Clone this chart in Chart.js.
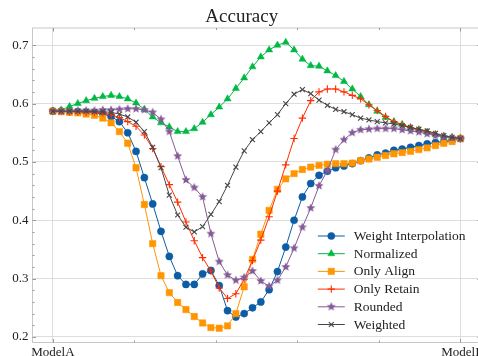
<!DOCTYPE html>
<html>
<head>
<meta charset="utf-8">
<script src="https://cdn.jsdelivr.net/npm/chart.js@4.4.1/dist/chart.umd.min.js"></script>
<style>
  html, body { margin: 0; padding: 0; background: #fff; overflow: hidden; }
  #wrap { width: 486px; height: 356px; }
</style>
</head>
<body>
<div id="wrap"><canvas id="accChart"></canvas></div>
<script>
// 50 evenly spaced interpolation steps between ModelA and ModelI
const steps = Array.from({ length: 50 }, (_, i) => i);
const xTickLabels = { 0: "ModelA", 49: "ModelI" };
const yTicks = [0.2, 0.3, 0.4, 0.5, 0.6, 0.7];

const weightInterp = [
  0.587, 0.587, 0.586, 0.586, 0.585, 0.584, 0.582, 0.578, 0.569, 0.550,
  0.518, 0.473, 0.428, 0.381, 0.338, 0.305, 0.290, 0.290, 0.308, 0.314,
  0.288, 0.245, 0.234, 0.240, 0.250, 0.260, 0.281, 0.312, 0.354, 0.400,
  0.440, 0.463, 0.477, 0.484, 0.490, 0.493, 0.497, 0.502, 0.507, 0.512,
  0.515, 0.520, 0.522, 0.525, 0.528, 0.531, 0.533, 0.535, 0.537, 0.540,
];
const normalized = [
  0.587, 0.589, 0.595, 0.600, 0.605, 0.609, 0.612, 0.614, 0.612, 0.608,
  0.601, 0.590, 0.577, 0.567, 0.560, 0.552, 0.552, 0.557, 0.568, 0.581,
  0.594, 0.608, 0.626, 0.644, 0.663, 0.680, 0.692, 0.700, 0.705, 0.692,
  0.676, 0.665, 0.664, 0.656, 0.648, 0.638, 0.625, 0.612, 0.598, 0.587,
  0.576, 0.569, 0.564, 0.559, 0.555, 0.551, 0.547, 0.544, 0.542, 0.540,
];
const onlyAlign = [
  0.587, 0.586, 0.585, 0.584, 0.582, 0.580, 0.575, 0.567, 0.552, 0.532,
  0.490, 0.427, 0.360, 0.305, 0.276, 0.259, 0.247, 0.235, 0.224, 0.216,
  0.215, 0.219, 0.240, 0.286, 0.333, 0.376, 0.417, 0.453, 0.471, 0.480,
  0.487, 0.491, 0.494, 0.496, 0.497, 0.497, 0.498, 0.502, 0.505, 0.508,
  0.511, 0.514, 0.516, 0.518, 0.521, 0.524, 0.528, 0.532, 0.535, 0.540,
];
const onlyRetain = [
  0.587, 0.587, 0.586, 0.586, 0.585, 0.585, 0.584, 0.581, 0.576, 0.569,
  0.561, 0.546, 0.523, 0.492, 0.461, 0.431, 0.397, 0.365, 0.336, 0.313,
  0.284, 0.266, 0.274, 0.299, 0.331, 0.366, 0.406, 0.450, 0.495, 0.540,
  0.575, 0.605, 0.620, 0.625, 0.625, 0.620, 0.614, 0.608, 0.598, 0.588,
  0.578, 0.569, 0.564, 0.559, 0.555, 0.551, 0.547, 0.544, 0.542, 0.540,
];
const rounded = [
  0.587, 0.587, 0.587, 0.588, 0.588, 0.588, 0.589, 0.589, 0.590, 0.591,
  0.591, 0.589, 0.585, 0.573, 0.552, 0.510, 0.469, 0.456, 0.440, 0.377,
  0.329, 0.306, 0.297, 0.302, 0.313, 0.296, 0.287, 0.297, 0.320, 0.352,
  0.388, 0.421, 0.459, 0.485, 0.521, 0.538, 0.550, 0.555, 0.556, 0.557,
  0.557, 0.557, 0.555, 0.553, 0.551, 0.548, 0.545, 0.543, 0.541, 0.540,
];
const weighted = [
  0.587, 0.587, 0.587, 0.587, 0.587, 0.586, 0.586, 0.585, 0.582, 0.577,
  0.568, 0.552, 0.525, 0.490, 0.443, 0.409, 0.388, 0.380, 0.389, 0.410,
  0.432, 0.460, 0.491, 0.519, 0.538, 0.552, 0.567, 0.581, 0.600, 0.616,
  0.624, 0.617, 0.606, 0.597, 0.590, 0.586, 0.581, 0.575, 0.572, 0.569,
  0.567, 0.565, 0.562, 0.559, 0.556, 0.553, 0.549, 0.545, 0.542, 0.540,
];

const SERIF = '"Liberation Serif", "DejaVu Serif", serif';

// filled five-point star, like matplotlib's "*" marker
function starMarker(color, r) {
  const c = document.createElement("canvas");
  const s = Math.ceil(r * 2 + 2);
  c.width = c.height = s;
  const g = c.getContext("2d");
  g.beginPath();
  for (let k = 0; k < 10; k++) {
    const rr = k % 2 ? r * 0.45 : r;
    const a = -Math.PI / 2 + (k * Math.PI) / 5;
    g.lineTo(s / 2 + rr * Math.cos(a), s / 2 + rr * Math.sin(a));
  }
  g.closePath();
  g.fillStyle = color;
  g.fill();
  return c;
}

function series(label, data, color, pointStyle, radius, idx) {
  return {
    label: label,
    data: data,
    borderColor: color,
    backgroundColor: color,
    pointBackgroundColor: color,
    pointBorderColor: color,
    borderWidth: 1,
    pointBorderWidth: pointStyle === "cross" || pointStyle === "crossRot" ? 1.1 : 0.5,
    pointStyle: pointStyle,
    pointRadius: radius,
    tension: 0,
    order: 5 - idx,
  };
}

const datasets = [
  series("Weight Interpolation", weightInterp, "#0C5DA5", "circle", 3.6, 0),
  series("Normalized", normalized, "#00B945", "triangle", 4.1, 1),
  series("Only Align", onlyAlign, "#FF9500", "rect", 4.5, 2),
  series("Only Retain", onlyRetain, "#FF2C00", "cross", 3.7, 3),
  series("Rounded", rounded, "#845B97", starMarker("#845B97", 4.7), 4.7, 4),
  series("Weighted", weighted, "#474747", "crossRot", 3.5, 5),
];

// box around the axes with small inward ticks
const frame = {
  id: "frame",
  afterDraw(chart) {
    const { ctx, chartArea: a, scales } = chart;
    ctx.save();
    ctx.strokeStyle = "#c8c8c8";
    ctx.lineWidth = 1;
    ctx.strokeRect(a.left, a.top, a.right - a.left, a.bottom - a.top);
    ctx.strokeStyle = "#999";
    ctx.beginPath();
    for (let v = 0.2; v <= 0.72; v += 0.02) {
      const y = Math.round(scales.y.getPixelForValue(v)) + 0.5;
      const major = Math.abs(v * 10 - Math.round(v * 10)) < 1e-6;
      const len = major ? 3.5 : 2;
      ctx.moveTo(a.left, y); ctx.lineTo(a.left + len, y);
      ctx.moveTo(a.right, y); ctx.lineTo(a.right - len, y);
    }
    for (let f = 0; f <= 5; f++) {
      const x = Math.round(scales.x.getPixelForValue(f * 9.8)) + 0.5;
      const len = f === 0 || f === 5 ? 3.5 : 2;
      ctx.moveTo(x, a.bottom); ctx.lineTo(x, a.bottom - len);
      ctx.moveTo(x, a.top); ctx.lineTo(x, a.top + len);
    }
    ctx.stroke();
    ctx.restore();
  },
};

// legend drawn inside the plot, lower right, without a box
const insideLegend = {
  id: "insideLegend",
  afterDraw(chart) {
    const { ctx, chartArea: a } = chart;
    const x0 = a.right - 163;
    const y0 = a.top + 208;
    ctx.save();
    ctx.font = "13.5px " + SERIF;
    ctx.textBaseline = "middle";
    chart.data.datasets.forEach((ds, i) => {
      const y = y0 + i * 17.7;
      ctx.strokeStyle = ds.borderColor;
      ctx.fillStyle = ds.borderColor;
      ctx.lineWidth = 1;
      ctx.beginPath();
      ctx.moveTo(x0, y);
      ctx.lineTo(x0 + 27, y);
      ctx.stroke();
      ctx.lineWidth = ds.pointBorderWidth;
      Chart.helpers.drawPoint(ctx, {
        pointStyle: ds.pointStyle,
        radius: ds.pointRadius,
        rotation: 0,
        borderWidth: ds.pointBorderWidth,
      }, x0 + 13.5, y);
      ctx.fillStyle = "#222";
      ctx.fillText(ds.label, x0 + 36, y + 0.5);
    });
    ctx.restore();
  },
};

new Chart(document.getElementById("accChart"), {
  type: "line",
  data: { labels: steps, datasets: datasets },
  plugins: [frame, insideLegend],
  options: {
    responsive: true,
    maintainAspectRatio: false,
    animation: false,
    layout: { padding: { right: 2.5, left: 0, top: 0, bottom: 0 } },
    plugins: {
      legend: { display: false },
      tooltip: { enabled: false },
      title: {
        display: true,
        text: "Accuracy",
        color: "#222",
        font: { family: SERIF, size: 19, weight: "normal", lineHeight: 1 },
        padding: { top: 7.5, bottom: 1.5 },
      },
    },
    scales: {
      x: {
        type: "linear",
        min: -2.45,
        max: 51.45,
        afterBuildTicks: (s) => { s.ticks = [{ value: 0 }, { value: 49 }]; },
        afterFit: (s) => { s.height = 13.5; },
        grid: { color: "#dddddd", drawTicks: false },
        border: { display: false },
        ticks: {
          padding: 2,
          color: "#222",
          font: { family: SERIF, size: 13 },
          maxRotation: 0,
          callback: (v) => xTickLabels[v] || "",
        },
      },
      y: {
        min: 0.1905,
        max: 0.7295,
        afterBuildTicks: (s) => { s.ticks = yTicks.map((v) => ({ value: v })); },
        afterFit: (s) => { s.width = 32.5; },
        grid: { color: "#dddddd", drawTicks: false },
        border: { display: false },
        ticks: {
          padding: 4,
          color: "#222",
          font: { family: SERIF, size: 13 },
          callback: (v) => v.toFixed(1),
        },
      },
    },
  },
});
</script>
</body>
</html>
